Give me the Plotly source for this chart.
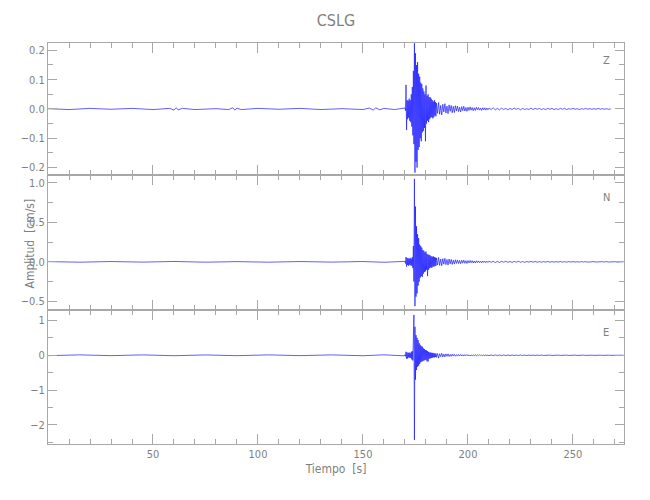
import numpy as np
import plotly.graph_objects as go
from plotly.subplots import make_subplots

# ---------------- data ----------------
title_text = "CSLG"
components = ["Z", "N", "E"]

# segment start times (s) and sampling steps (s)
strong_t0, strong_dt = 170.0, 0.25
coda1_t0, coda1_dt = 185.0, 0.5
coda2_t0, coda2_dt = 210.0, 1.0

# ---- Z ----
Z_noise_t = [0, 10, 20, 30, 40, 50, 58, 60, 61, 62, 64, 70, 80, 86, 88, 89, 90, 92, 100, 110,
             120, 130, 140, 150, 153, 155, 156, 158, 160, 165, 169.75]
Z_noise = [0.001, -0.002, 0.002, -0.001, 0.002, -0.002, 0.002, -0.004, 0.004, -0.003, 0.002,
           -0.002, 0.001, -0.002, 0.004, -0.004, 0.003, -0.002, 0.002, -0.001, 0.002, -0.002,
           0.001, -0.002, 0.003, -0.004, 0.004, -0.003, 0.002, -0.002, 0.003]
Z_strong = [0.004, -0.006, 0.082, -0.072, 0.03, -0.035, 0.028, -0.03, 0.035, -0.04,
            0.03, -0.045, 0.05, -0.06, 0.075, -0.09, 0.13, -0.12, 0.224, -0.217,
            0.19, -0.18, 0.15, -0.2, 0.16, -0.14, 0.12, -0.13, 0.11, -0.1,
            0.09, -0.11, 0.085, -0.08, 0.07, -0.075, 0.06, -0.065, 0.05, -0.11,
            0.08, -0.05, 0.045, -0.04, 0.05, -0.045, 0.04, -0.035, 0.04, -0.03,
            0.035, -0.028, 0.03, -0.032, 0.025, -0.028, 0.03, -0.022, 0.024, -0.025]
Z_coda1 = [0.02, -0.015, 0.022, -0.018, 0.012, -0.02, 0.016, -0.01, 0.018, -0.014,
           0.01, -0.016, 0.014, -0.008, 0.012, -0.013, 0.009, -0.012, 0.011, -0.007,
           0.01, -0.009, 0.006, -0.01, 0.008, -0.006, 0.009, -0.007, 0.005, -0.008,
           0.006, -0.005, 0.007, -0.004, 0.005, -0.006, 0.004, -0.005, 0.006, -0.003,
           0.005, -0.004, 0.003, -0.005, 0.004, -0.003, 0.004, -0.004, 0.003, -0.003]
Z_coda2 = [0.003, -0.002, 0.004, -0.003, 0.002, -0.003, 0.003, -0.002, 0.002, -0.003,
           0.002, -0.002, 0.003, -0.001, 0.002, -0.003, 0.002, -0.002, 0.001, -0.002,
           0.003, -0.002, 0.002, -0.001, 0.002, -0.002, 0.001, -0.002, 0.002, -0.001,
           0.002, -0.002, 0.001, -0.002, 0.002, -0.001, 0.002, -0.002, 0.001, -0.001,
           0.002, -0.001, 0.001, -0.002, 0.001, -0.001, 0.002, -0.001, 0.001, -0.001,
           0.001, -0.001, 0.002, -0.001, 0.001, -0.001, 0.001, -0.001, 0.0]

# ---- N ----
N_noise_t = [0, 15, 30, 45, 60, 75, 90, 105, 120, 135, 150, 160, 169.75]
N_noise = [0.003, -0.004, 0.004, -0.003, 0.005, -0.004, 0.003, -0.004, 0.004, -0.003,
           0.004, -0.005, 0.006]
N_strong = [0.01, -0.02, 0.06, -0.06, 0.05, -0.04, 0.045, -0.05, 0.04, -0.035,
            0.05, -0.045, 0.04, -0.05, 0.06, -0.08, 0.2, -0.25, 1.05, -0.56,
            0.7, -0.44, 0.45, -0.4, 0.35, -0.3, 0.3, -0.25, 0.22, -0.2,
            0.2, -0.18, 0.18, -0.19, 0.15, -0.15, 0.14, -0.13, 0.12, -0.12,
            0.13, -0.1, 0.1, -0.18, 0.09, -0.1, 0.09, -0.08, 0.08, -0.07,
            0.07, -0.075, 0.065, -0.06, 0.07, -0.06, 0.06, -0.055, 0.055, -0.05]
N_coda1 = [0.05, -0.04, 0.055, -0.045, 0.035, -0.05, 0.04, -0.03, 0.045, -0.035,
           0.03, -0.04, 0.035, -0.025, 0.03, -0.032, 0.022, -0.028, 0.026, -0.02,
           0.024, -0.022, 0.018, -0.024, 0.02, -0.016, 0.022, -0.018, 0.014, -0.02,
           0.016, -0.013, 0.018, -0.012, 0.015, -0.014, 0.011, -0.015, 0.013, -0.01,
           0.012, -0.011, 0.009, -0.012, 0.011, -0.008, 0.01, -0.01, 0.008, -0.009]
N_coda2 = [0.009, -0.007, 0.008, -0.009, 0.006, -0.008, 0.007, -0.005, 0.008, -0.006,
           0.005, -0.007, 0.006, -0.004, 0.007, -0.005, 0.004, -0.006, 0.005, -0.004,
           0.006, -0.004, 0.005, -0.005, 0.003, -0.005, 0.004, -0.003, 0.005, -0.004,
           0.003, -0.004, 0.004, -0.003, 0.004, -0.003, 0.003, -0.004, 0.003, -0.002,
           0.004, -0.003, 0.002, -0.003, 0.003, -0.002, 0.003, -0.003, 0.002, -0.002,
           0.003, -0.002, 0.002, -0.003, 0.002, -0.002, 0.003, -0.002, 0.002, -0.002,
           0.002, -0.002, 0.001, -0.002, 0.001]

# ---- E ----
E_noise_t = [0, 15, 30, 45, 60, 75, 90, 105, 120, 135, 150, 160, 169.75]
E_noise = [-0.01, 0.012, -0.01, 0.011, -0.012, 0.01, -0.011, 0.012, -0.01, 0.011,
           -0.012, 0.013, -0.015]
E_strong = [0.02, -0.03, 0.1, -0.1, 0.08, -0.09, 0.07, -0.06, 0.08, -0.07,
            0.06, -0.08, 0.1, -0.12, 0.12, -0.15, 0.3, 1.16, -2.43, 0.82,
            -0.7, 0.58, -0.42, 0.5, -0.33, 0.44, -0.3, 0.35, -0.25, 0.3,
            -0.2, 0.26, -0.18, 0.25, -0.17, 0.2, -0.15, 0.18, -0.14, 0.15,
            -0.13, 0.14, -0.17, 0.12, -0.18, 0.1, -0.1, 0.08, -0.09, 0.08,
            -0.08, 0.07, -0.07, 0.07, -0.06, 0.06, -0.06, 0.055, -0.05, 0.05]
E_coda1 = [-0.06, 0.05, -0.08, 0.045, -0.04, 0.06, -0.05, 0.035, -0.045, 0.04,
           -0.03, 0.04, -0.035, 0.025, -0.03, 0.032, -0.022, 0.028, -0.026, 0.02,
           -0.024, 0.022, -0.018, 0.024, -0.02, 0.016, -0.022, 0.018, -0.014, 0.02,
           -0.016, 0.013, -0.018, 0.012, -0.015, 0.014, -0.011, 0.015, -0.013, 0.01,
           -0.012, 0.011, -0.009, 0.012, -0.011, 0.008, -0.01, 0.01, -0.008, 0.009]
E_coda2 = [-0.012, 0.012, -0.011, 0.011, -0.01, 0.01, -0.01, 0.009, -0.009, 0.009,
           -0.009, 0.008, -0.008, 0.008, -0.008, 0.007, -0.007, 0.007, -0.007, 0.007,
           -0.006, 0.006, -0.006, 0.006, -0.006, 0.006, -0.005, 0.005, -0.005, 0.005,
           -0.005, 0.005, -0.005, 0.005, -0.004, 0.004, -0.004, 0.004, -0.004, 0.004,
           -0.004, 0.004, -0.004, 0.004, -0.004, 0.003, -0.003, 0.003, -0.003, 0.003,
           -0.003, 0.003, -0.003, 0.003, -0.003, 0.003, -0.003, 0.003, -0.002, 0.002,
           -0.002, 0.002, -0.002, 0.002, 0.0]

x_ticks = [50, 100, 150, 200, 250]
y_ranges = {"Z": [-0.225, 0.225], "N": [-0.61, 1.1], "E": [-2.55, 1.3]}
y_dticks = {"Z": 0.1, "N": 0.5, "E": 1}
y_minor = {"Z": 0.05, "N": 0.25, "E": 0.5}
y_fmt = {"Z": ".1f", "N": ".1f", "E": "d"}
x_range = [0, 274.3]

# ---------------- assemble traces ----------------
def build(noise_t, noise, strong, coda1, coda2):
    t = np.concatenate([
        np.asarray(noise_t, float),
        strong_t0 + strong_dt * np.arange(len(strong)),
        coda1_t0 + coda1_dt * np.arange(len(coda1)),
        coda2_t0 + coda2_dt * np.arange(len(coda2)),
    ])
    v = np.concatenate([noise, strong, coda1, coda2])
    return t, v

series = {
    "Z": build(Z_noise_t, Z_noise, Z_strong, Z_coda1, Z_coda2),
    "N": build(N_noise_t, N_noise, N_strong, N_coda1, N_coda2),
    "E": build(E_noise_t, E_noise, E_strong, E_coda1, E_coda2),
}

FONT = "DejaVu Sans Condensed, DejaVu Sans, sans-serif"
AX = "#a8a8a8"
TXT = "#7f7f7f"

# the page body adds an 8 px offset; plot area in figure coords:
L, R, T, B = 40, 616, 35, 436
W_PLOT, H_PLOT = R - L, B - T
OFF = 8

fig = make_subplots(rows=3, cols=1, shared_xaxes=True, vertical_spacing=0)
domains = [[0.671, 1.0], [0.334, 0.671], [0.0, 0.334]]
label_y = [61, 197, 332]  # screen px
label_x = 606               # screen px

for i, comp in enumerate(components):
    t, v = series[comp]
    fig.add_trace(go.Scatter(x=t, y=v, mode="lines",
                             line=dict(color="#1a1aff", width=0.7),
                             showlegend=False, hoverinfo="skip"),
                  row=i + 1, col=1)
    fig.update_yaxes(range=y_ranges[comp], dtick=y_dticks[comp], tickformat=y_fmt[comp],
                     domain=domains[i], ticks="inside", ticklen=9, tickcolor=AX,
                     showline=True, linecolor=AX, linewidth=1, mirror="allticks",
                     showgrid=False, zeroline=False, automargin=False,
                     tickfont=dict(family=FONT, size=11, color=TXT),
                     minor=dict(dtick=y_minor[comp], ticks="inside", ticklen=5, tickcolor=AX),
                     row=i + 1, col=1)
    fig.update_xaxes(range=x_range, tickvals=x_ticks, ticks="inside", ticklen=10,
                     tickcolor=AX, showline=True, linecolor=AX, linewidth=1,
                     mirror="allticks", showgrid=False, zeroline=False, automargin=False,
                     showticklabels=(i == 2),
                     tickfont=dict(family=FONT, size=11, color=TXT),
                     minor=dict(dtick=10, tick0=0, ticks="inside", ticklen=5, tickcolor=AX),
                     row=i + 1, col=1)
    fig.add_annotation(text=comp, xref="paper", yref="paper",
                       x=(label_x - OFF - L) / W_PLOT,
                       y=1 - (label_y[i] - OFF - T) / H_PLOT,
                       xanchor="center", yanchor="middle",
                       showarrow=False, font=dict(family=FONT, size=11, color=TXT))

fig.update_xaxes(title=dict(text="Tiempo  [s]", font=dict(family=FONT, size=12, color=TXT),
                            standoff=4), row=3, col=1)

fig.add_annotation(text="Amplitud  [cm/s]", xref="paper", yref="paper",
                   x=(29 - OFF - L) / W_PLOT, y=0.5, textangle=-90, showarrow=False,
                   xanchor="center", yanchor="middle",
                   font=dict(family=FONT, size=12, color=TXT))

fig.update_layout(
    width=650, height=500,
    margin=dict(l=L, r=650 - R, t=T, b=500 - B),
    paper_bgcolor="white", plot_bgcolor="white",
    title=dict(text=title_text, x=(336 - OFF) / 650, xanchor="center", y=1 - 12 / 500,
               yanchor="middle", font=dict(family=FONT, size=16, color=TXT)),
)

fig.write_html("out.html")
